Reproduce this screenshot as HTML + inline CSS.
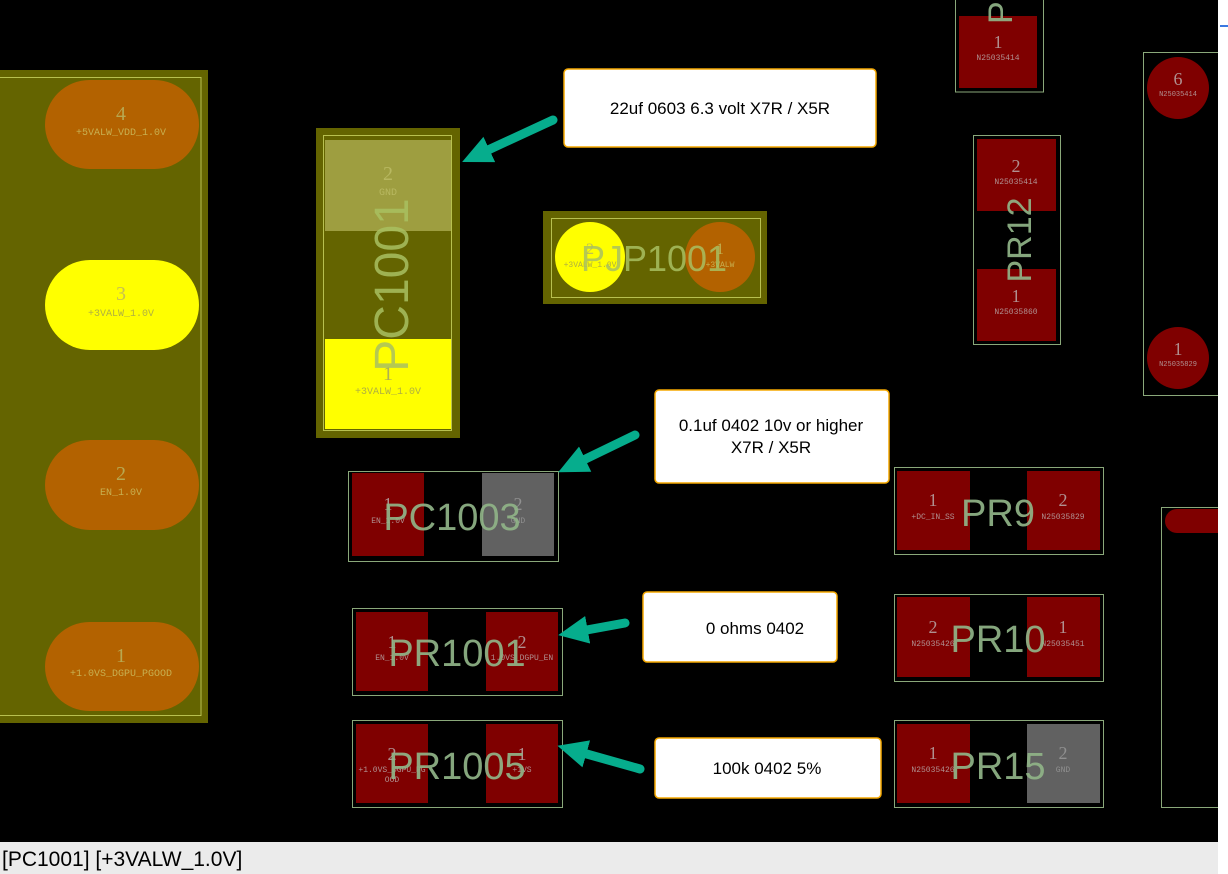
<!DOCTYPE html>
<html><head><meta charset="utf-8"><style>
html,body{margin:0;padding:0;background:#fff;}
svg{display:block}
</style></head><body>
<svg width="1228" height="874" viewBox="0 0 1228 874" xmlns="http://www.w3.org/2000/svg">
<defs>
<marker id="ah" markerUnits="userSpaceOnUse" markerWidth="32" markerHeight="30" refX="18" refY="14" orient="auto">
<path d="M0,0 L30,14 L0,28 z" fill="#06ad8d"/>
</marker>
<clipPath id="cv"><rect x="0" y="0" width="1218" height="842"/></clipPath>
</defs>
<rect x="0" y="0" width="1228" height="874" fill="#fff"/>
<rect x="1220" y="25" width="8" height="2" fill="#3a78e0"/>
<rect x="0" y="842" width="1218" height="32" fill="#ebebeb"/>
<text x="2" y="866" font-family="Liberation Sans, sans-serif" font-size="21" fill="#000">[PC1001] [+3VALW_1.0V]</text>
<g clip-path="url(#cv)">
<rect x="0" y="0" width="1218" height="842" fill="#000"/>

<!-- left connector -->
<rect x="0" y="70" width="208" height="653" fill="#646400"/>
<rect x="-2" y="77.5" width="203" height="638" fill="none" stroke="#b8c050" stroke-width="1"/>
<g font-family="Liberation Serif, serif" text-anchor="middle">
<rect x="45" y="80" width="154" height="89" rx="44.5" fill="#b36200"/>
<text x="121" y="120" font-size="20" fill="#b8a850">4</text>
<text x="121" y="135" font-size="10" fill="#c8b050" font-family="Liberation Mono, monospace">+5VALW_VDD_1.0V</text>
<rect x="45" y="260" width="154" height="90" rx="45" fill="#ffff00"/>
<text x="121" y="300" font-size="20" fill="#c8c050">3</text>
<text x="121" y="316" font-size="10" fill="#b0b040" font-family="Liberation Mono, monospace">+3VALW_1.0V</text>
<rect x="45" y="440" width="154" height="90" rx="45" fill="#b36200"/>
<text x="121" y="480" font-size="20" fill="#b8a850">2</text>
<text x="121" y="495" font-size="10" fill="#c8b050" font-family="Liberation Mono, monospace">EN_1.0V</text>
<rect x="45" y="622" width="154" height="89" rx="44.5" fill="#b36200"/>
<text x="121" y="662" font-size="20" fill="#b8a850">1</text>
<text x="121" y="676" font-size="10" fill="#c8b050" font-family="Liberation Mono, monospace">+1.0VS_DGPU_PGOOD</text>
</g>

<!-- PC1001 -->
<rect x="316" y="128" width="144" height="310" fill="#646400"/>
<rect x="323.5" y="135.5" width="128" height="295" fill="none" stroke="#b8c050"/>
<rect x="325" y="140" width="126" height="91" fill="#9e9e40"/>
<rect x="325" y="339" width="126" height="90" fill="#ffff00"/>
<g font-family="Liberation Serif, serif" text-anchor="middle">
<text x="388" y="180" font-size="20" fill="#b8b860">2</text>
<text x="388" y="195" font-size="10" fill="#b8b860" font-family="Liberation Mono, monospace">GND</text>
<text x="388" y="380" font-size="20" fill="#b0b050">1</text>
<text x="388" y="394" font-size="10" fill="#b0b040" font-family="Liberation Mono, monospace">+3VALW_1.0V</text>
</g>
<text x="0" y="0" transform="translate(408,285) rotate(-90)" font-family="Liberation Sans, sans-serif" font-size="48" fill="#a8c060" fill-opacity="0.85" text-anchor="middle">PC1001</text>

<!-- PJP1001 -->
<rect x="543" y="211" width="224" height="93" fill="#646400"/>
<rect x="551.5" y="218.5" width="209" height="79" fill="none" stroke="#b8c050"/>
<circle cx="590" cy="257" r="35" fill="#ffff00"/>
<circle cx="720" cy="257" r="35" fill="#b36200"/>
<g font-family="Liberation Serif, serif" text-anchor="middle">
<text x="590" y="254" font-size="16" fill="#c0c050">2</text>
<text x="590" y="267" font-size="8" fill="#b0b040" font-family="Liberation Mono, monospace">+3VALW_1.0V</text>
<text x="720" y="254" font-size="16" fill="#c0b050">1</text>
<text x="720" y="267" font-size="8" fill="#c8b050" font-family="Liberation Mono, monospace">+3VALW</text>
</g>
<text x="654" y="271" font-family="Liberation Sans, sans-serif" font-size="36" fill="#a8c060" fill-opacity="0.85" text-anchor="middle">PJP1001</text>

<!-- footprints -->
<g fill="none" stroke="#8aa87a" stroke-width="1">
<rect x="348.5" y="471.5" width="210" height="90"/>
<rect x="352.5" y="608.5" width="210" height="87"/>
<rect x="352.5" y="720.5" width="210" height="87"/>
<rect x="894.5" y="467.5" width="209" height="87"/>
<rect x="894.5" y="594.5" width="209" height="87"/>
<rect x="894.5" y="720.5" width="209" height="87"/>
<rect x="955.5" y="-5" width="88" height="97"/>
<rect x="973.5" y="135.5" width="87" height="209"/>
<rect x="1143.5" y="52.5" width="90" height="343"/>
<rect x="1161.5" y="507.5" width="70" height="300"/>
</g>
<g fill="#7f0000">
<rect x="352" y="473" width="72" height="83"/>
<rect x="356" y="612" width="72" height="79"/><rect x="486" y="612" width="72" height="79"/>
<rect x="356" y="724" width="72" height="79"/><rect x="486" y="724" width="72" height="79"/>
<rect x="897" y="471" width="73" height="79"/><rect x="1027" y="471" width="73" height="79"/>
<rect x="897" y="597" width="73" height="80"/><rect x="1027" y="597" width="73" height="80"/>
<rect x="897" y="724" width="73" height="79"/>
<rect x="959" y="16" width="78" height="72"/>
<rect x="977" y="139" width="79" height="72"/><rect x="977" y="269" width="79" height="72"/>
<circle cx="1178" cy="88" r="31"/><circle cx="1178" cy="358" r="31"/>
<rect x="1165" y="509" width="80" height="24" rx="12"/>
</g>
<rect x="482" y="473" width="72" height="83" fill="#616161"/>
<rect x="1027" y="724" width="73" height="79" fill="#616161"/>

<g font-family="Liberation Serif, serif" text-anchor="middle" fill="#b09090">
<text x="388" y="510" font-size="18">1</text><text x="388" y="523" font-size="8" font-family="Liberation Mono, monospace">EN_1.0V</text>
<text x="518" y="510" font-size="18" fill="#909090">2</text><text x="518" y="523" font-size="8" fill="#909090" font-family="Liberation Mono, monospace">GND</text>
<text x="392" y="648" font-size="18">1</text><text x="392" y="660" font-size="8" font-family="Liberation Mono, monospace">EN_1.0V</text>
<text x="522" y="648" font-size="18">2</text><text x="522" y="660" font-size="8" font-family="Liberation Mono, monospace">1.0VS_DGPU_EN</text>
<text x="392" y="760" font-size="18">2</text><text x="392" y="772" font-size="8" font-family="Liberation Mono, monospace">+1.0VS_DGPU_PG</text><text x="392" y="782" font-size="8" font-family="Liberation Mono, monospace">OOD</text>
<text x="522" y="760" font-size="18">1</text><text x="522" y="772" font-size="8" font-family="Liberation Mono, monospace">+1VS</text>
<text x="933" y="506" font-size="18">1</text><text x="933" y="519" font-size="8" font-family="Liberation Mono, monospace">+DC_IN_SS</text>
<text x="1063" y="506" font-size="18">2</text><text x="1063" y="519" font-size="8" font-family="Liberation Mono, monospace">N25035829</text>
<text x="933" y="633" font-size="18">2</text><text x="933" y="646" font-size="8" font-family="Liberation Mono, monospace">N25035426</text>
<text x="1063" y="633" font-size="18">1</text><text x="1063" y="646" font-size="8" font-family="Liberation Mono, monospace">N25035451</text>
<text x="933" y="759" font-size="18">1</text><text x="933" y="772" font-size="8" font-family="Liberation Mono, monospace">N25035426</text>
<text x="1063" y="759" font-size="18" fill="#909090">2</text><text x="1063" y="772" font-size="8" fill="#909090" font-family="Liberation Mono, monospace">GND</text>
<text x="998" y="48" font-size="18">1</text><text x="998" y="60" font-size="8" font-family="Liberation Mono, monospace">N25035414</text>
<text x="1016" y="172" font-size="18">2</text><text x="1016" y="184" font-size="8" font-family="Liberation Mono, monospace">N25035414</text>
<text x="1016" y="302" font-size="18">1</text><text x="1016" y="314" font-size="8" font-family="Liberation Mono, monospace">N25035860</text>
<text x="1178" y="85" font-size="18">6</text><text x="1178" y="96" font-size="7" font-family="Liberation Mono, monospace">N25035414</text>
<text x="1178" y="355" font-size="18">1</text><text x="1178" y="366" font-size="7" font-family="Liberation Mono, monospace">N25035829</text>
</g>

<g font-family="Liberation Sans, sans-serif" text-anchor="middle" fill="#90b488" fill-opacity="0.92">
<text x="452" y="530" font-size="38">PC1003</text>
<text x="457" y="666" font-size="38">PR1001</text>
<text x="457" y="779" font-size="38">PR1005</text>
<text x="998" y="526" font-size="38">PR9</text>
<text x="998" y="652" font-size="38">PR10</text>
<text x="998" y="779" font-size="38">PR15</text>
<text transform="translate(1031,240) rotate(-90)" font-size="34">PR12</text>
<text transform="translate(1012,24) rotate(-90)" font-size="34" text-anchor="start">PR</text>
</g>

<!-- callouts -->
<g fill="#fff" stroke="#f5a800" stroke-width="1.5">
<rect x="564" y="69" width="312" height="78" rx="4"/>
<rect x="655" y="390" width="234" height="93" rx="4"/>
<rect x="643" y="592" width="194" height="70" rx="4"/>
<rect x="655" y="738" width="226" height="60" rx="4"/>
</g>
<g font-family="Liberation Sans, sans-serif" font-size="17" text-anchor="middle" fill="#000">
<text x="720" y="114">22uf 0603 6.3 volt X7R / X5R</text>
<text x="771" y="431">0.1uf 0402 10v or higher</text>
<text x="771" y="453">X7R / X5R</text>
<text x="755" y="634">0 ohms 0402</text>
<text x="767" y="774">100k 0402 5%</text>
</g>

<g stroke="#06ad8d" stroke-width="9" stroke-linecap="round" fill="none">
<line x1="553" y1="120" x2="473" y2="157" marker-end="url(#ah)"/>
<line x1="635" y1="435" x2="569" y2="467" marker-end="url(#ah)"/>
<line x1="625" y1="623" x2="570" y2="633" marker-end="url(#ah)"/>
<line x1="640" y1="769" x2="569" y2="749" marker-end="url(#ah)"/>
</g>
</g>
</svg>
</body></html>
